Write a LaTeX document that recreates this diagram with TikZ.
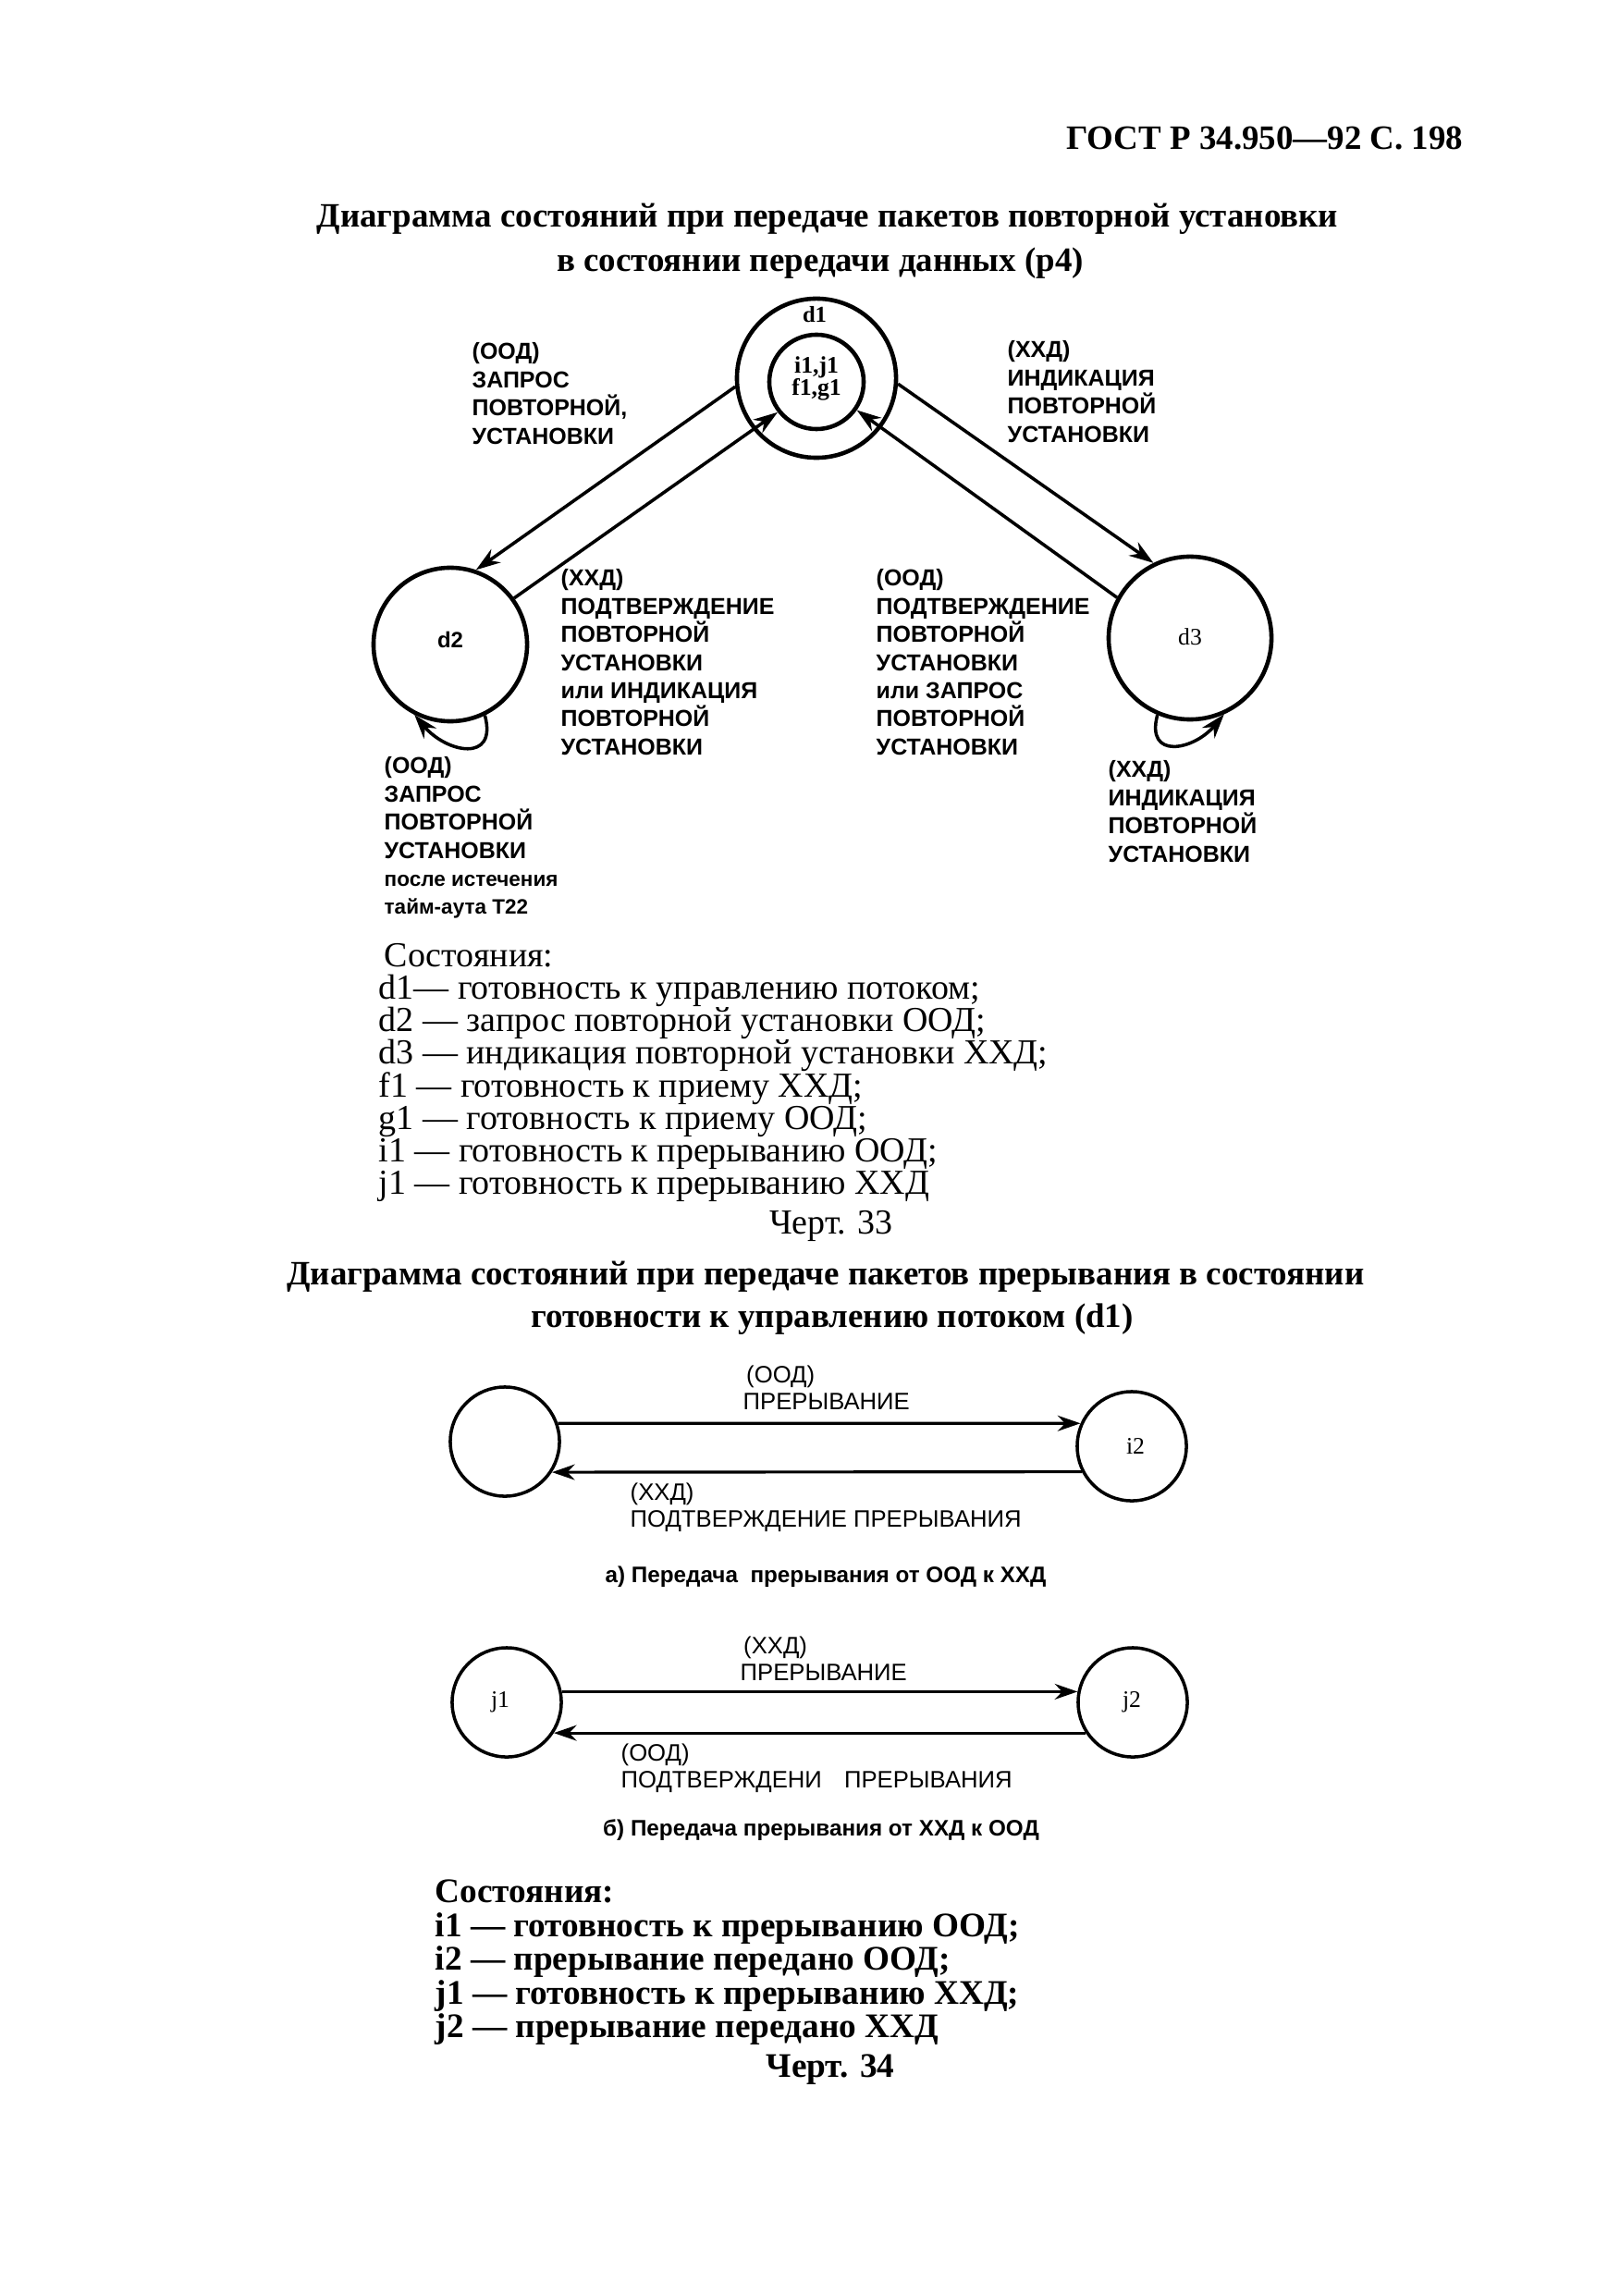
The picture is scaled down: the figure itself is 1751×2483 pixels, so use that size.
\documentclass[tikz,border=0pt]{standalone}
\usepackage{fontspec}
\setmainfont{Liberation Serif}
\newfontfamily\lsans{Liberation Sans}
\usetikzlibrary{arrows.meta}
\begin{document}
\begin{tikzpicture}[x=0.01cm,y=0.01cm,
  st/.style={circle,draw,line width=1.3pt,inner sep=0pt},
  sst/.style={circle,draw,line width=1pt,inner sep=0pt,minimum size=1.18cm},
  tr/.style={line width=1pt,-{Stealth[length=7.5pt,width=5pt]}},
  btr/.style={line width=0.9pt,-{Stealth[length=7pt,width=4.8pt]}},
  lab/.style={anchor=north west,inner sep=0pt,align=left,font=\lsans\bfseries\fontsize{7.1pt}{8.65pt}\selectfont},
  blab/.style={anchor=north west,inner sep=0pt,align=left,font=\lsans\fontsize{7.3pt}{8.4pt}\selectfont},
  captxt/.style={anchor=base,inner sep=0pt,font=\lsans\bfseries\fontsize{6.9pt}{8pt}\selectfont},
  ttl/.style={anchor=base,inner sep=0pt,font=\bfseries\fontsize{10.5pt}{12pt}\selectfont},
  lst/.style={anchor=base west,inner sep=0pt,font=\fontsize{10.8pt}{12pt}\selectfont},
  lstb/.style={anchor=base west,inner sep=0pt,font=\bfseries\fontsize{10.6pt}{12pt}\selectfont},
  slab/.style={inner sep=0pt,font=\fontsize{7.3pt}{8pt}\selectfont}
]
\useasboundingbox (0,0) rectangle (1751,-2483);
\fill[white] (0,0) rectangle (1751,-2483);

% header and title
\node[anchor=base east,inner sep=0pt,font=\bfseries\fontsize{10.5pt}{12pt}\selectfont] (hdr) at (1583,-162) {ГОСТ Р 34.950—92 С. 198};
\node[ttl] (t1a) at (895,-246) {Диаграмма состояний при передаче пакетов повторной установки};
\node[ttl] (t1b) at (887,-294) {в состоянии передачи данных (р4)};

% top diagram
\node[st,minimum size=1.72cm] (d1o) at (883,-409) {};
\node[st,minimum size=1.02cm] (d1i) at (883,-413) {};
\node[slab,font=\bfseries\fontsize{7pt}{8pt}\selectfont] (d1t) at (881,-340) {d1};
\node[slab,font=\bfseries\fontsize{7.3pt}{8pt}\selectfont] (d1a) at (883,-397) {i1,j1};
\node[slab,font=\bfseries\fontsize{7.3pt}{8pt}\selectfont] (d1b) at (883,-421) {f1,g1};
\node[st,minimum size=1.66cm] (d2) at (487,-697) {};
\node[slab,font=\lsans\bfseries\fontsize{6.8pt}{8pt}\selectfont] (d2t) at (487,-692) {d2};
\node[st,minimum size=1.76cm] (d3) at (1287,-690) {};
\node[slab] (d3t) at (1287,-689) {d3};

\draw[tr] (d1o.186) -- (d2.71);
\draw[tr] (d2.36) -- (d1i.218);
\draw[tr] (d1o.-4) -- (d3.116);
\draw[tr] (d3.151) -- (d1i.-35);
\draw[tr] (d2.-64) to[out=-75,in=-50,looseness=1.8] (d2.-117);
\draw[tr] (d3.-113) to[out=-105,in=-130,looseness=1.8] (d3.-66);

\node[lab] (l1) at (510,-370) {(ООД)\\ЗАПРОС\\ПОВТОРНОЙ,\\УСТАНОВКИ};
\node[lab] (l2) at (1089,-368) {(ХХД)\\ИНДИКАЦИЯ\\ПОВТОРНОЙ\\УСТАНОВКИ};
\node[lab] (l3) at (606,-615) {(ХХД)\\ПОДТВЕРЖДЕНИЕ\\ПОВТОРНОЙ\\УСТАНОВКИ\\или ИНДИКАЦИЯ\\ПОВТОРНОЙ\\УСТАНОВКИ};
\node[lab] (l4) at (947,-615) {(ООД)\\ПОДТВЕРЖДЕНИЕ\\ПОВТОРНОЙ\\УСТАНОВКИ\\или ЗАПРОС\\ПОВТОРНОЙ\\УСТАНОВКИ};
\node[lab] (l5) at (415,-818) {(ООД)\\ЗАПРОС\\ПОВТОРНОЙ\\УСТАНОВКИ\\{\fontsize{6.4pt}{8pt}\selectfont после истечения}\\{\fontsize{6.4pt}{8pt}\selectfont тайм-аута Т22}};
\node[lab] (l6) at (1198,-822) {(ХХД)\\ИНДИКАЦИЯ\\ПОВТОРНОЙ\\УСТАНОВКИ};

% legend 1
\node[lst] (s0) at (415,-1045) {Состояния:};
\node[lst] (s1) at (409,-1080) {d1— готовность к управлению потоком;};
\node[lst] (s2) at (409,-1115) {d2 — запрос повторной установки ООД;};
\node[lst] (s3) at (409,-1150) {d3 — индикация повторной установки ХХД;};
\node[lst] (s4) at (409,-1186) {f1 — готовность к приему ХХД;};
\node[lst] (s5) at (409,-1221) {g1 — готовность к приему ООД;};
\node[lst] (s6) at (409,-1256) {i1 — готовность к прерыванию ООД;};
\node[lst] (s7) at (409,-1291) {j1 — готовность к прерыванию ХХД};
\node[anchor=base,inner sep=0pt,font=\fontsize{10.8pt}{12pt}\selectfont] (ch33) at (899,-1334) {Черт. 33};

% title 2
\node[ttl] (t2a) at (893,-1389) {Диаграмма состояний при передаче пакетов прерывания в состоянии};
\node[ttl] (t2b) at (900,-1435) {готовности к управлению потоком (d1)};

% diagram a
\node[sst] (a1) at (546,-1559) {};
\node[sst] (a2) at (1224,-1564) {};
\node[slab] (a2t) at (1228,-1564) {i2};
\draw[btr] (a1.19) -- (a2.156);
\draw[btr] (a2.207) -- (a1.-33);
\node[blab] (la1) at (803,-1476) {\hspace*{1pt}(ООД)\\ПРЕРЫВАНИЕ};
\node[blab] (la2) at (681,-1603) {(ХХД)\\ПОДТВЕРЖДЕНИЕ ПРЕРЫВАНИЯ};
\node[captxt] (capa) at (893,-1711) {а) Передача\ \ прерывания от ООД к ХХД};

% diagram b
\node[sst] (b1) at (548,-1841) {};
\node[sst] (b2) at (1225,-1841) {};
\node[slab] (b1t) at (541,-1841) {j1};
\node[slab] (b2t) at (1224,-1841) {j2};
\draw[btr] (b1.11) -- (b2.169);
\draw[btr] (b2.213) -- (b1.-33);
\node[blab] (lb1) at (800,-1769) {\hspace*{1pt}(ХХД)\\ПРЕРЫВАНИЕ};
\node[blab] (lb2) at (671,-1885) {(ООД)\\ПОДТВЕРЖДЕНИ\hphantom{Е} ПРЕРЫВАНИЯ};
\node[captxt] (capb) at (888,-1985) {б) Передача прерывания от ХХД к ООД};

% legend 2
\node[lstb] (r0) at (470,-2057) {Состояния:};
\node[lstb] (r1) at (470,-2094) {i1 — готовность к прерыванию ООД;};
\node[lstb] (r2) at (470,-2130) {i2 — прерывание передано ООД;};
\node[lstb] (r3) at (470,-2167) {j1 — готовность к прерыванию ХХД;};
\node[lstb] (r4) at (470,-2203) {j2 — прерывание передано ХХД};
\node[anchor=base,inner sep=0pt,font=\bfseries\fontsize{10.6pt}{12pt}\selectfont] (ch34) at (898,-2246) {Черт. 34};
\end{tikzpicture}
\end{document}
